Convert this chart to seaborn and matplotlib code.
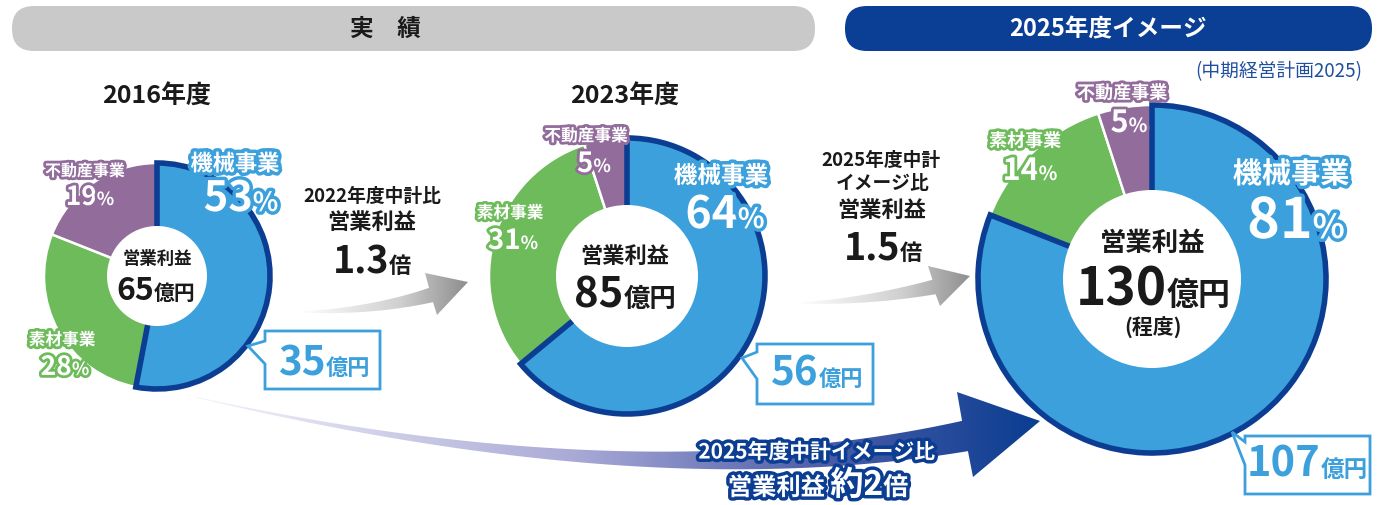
import numpy as np
import matplotlib
matplotlib.use("Agg")
import matplotlib.pyplot as plt
import seaborn as sns
from matplotlib.patches import Polygon, Circle, FancyBboxPatch
from matplotlib.colors import LinearSegmentedColormap
from matplotlib import patheffects as pe

# ---------------- data ----------------
segments = ["機械事業", "素材事業", "不動産事業"]
share_2016 = [53, 28, 19]
share_2023 = [64, 31, 5]
share_2025 = [81, 14, 5]
profit_total = [65, 85, 130]          # 億円
machine_profit = [35, 56, 107]        # 億円
period_labels = ["2016年度", "2023年度"]
ratio_labels = ["1.3", "1.5", "2"]

# ---------------- style ----------------
sns.set_theme(style="white")
plt.rcParams["font.family"] = ["Noto Sans CJK JP", "DejaVu Sans"]

BLUE = "#3ca0dc"
NAVY = "#0b3e92"
GREEN = "#6dbb5a"
PURPLE = "#926d9c"
seg_colors = sns.color_palette([BLUE, GREEN, PURPLE])
DARK = "#1a1a1a"

fig = plt.figure(figsize=(13.8, 5.06), dpi=100)
ax = fig.add_axes([0, 0, 1, 1])
renderer = fig.canvas.get_renderer()


def mixed(x, y, parts, color, stroke=None, z=7):
    """parts: list of (text, fontsize); centered at x, on baseline y"""
    pes = [pe.withStroke(linewidth=stroke[0], foreground=stroke[1])] if stroke else None
    ts = []
    for s, fs in parts:
        t = ax.text(0, y, s, fontsize=fs, color=color, fontweight="bold",
                    ha="left", va="baseline", zorder=z, path_effects=pes)
        ts.append(t)
    ws = [t.get_window_extent(renderer).width for t in ts]
    start = x - sum(ws) / 2
    for t, w in zip(ts, ws):
        t.set_x(start)
        start += w


def label(x, y, s, fs, color="white", stroke=None, weight="bold", z=7):
    pes = [pe.withStroke(linewidth=stroke[0], foreground=stroke[1])] if stroke else None
    ax.text(x, y, s, fontsize=fs, color=color, fontweight=weight, ha="center",
            va="center", zorder=z, path_effects=pes)


def donut(cx, cy, R, ri, values):
    wedges, _ = ax.pie(values, colors=seg_colors, startangle=270, counterclock=True,
                       center=(cx, cy), radius=R, frame=True,
                       wedgeprops=dict(edgecolor="white", linewidth=1.8))
    for w in wedges[1:]:
        w.set_zorder(2)
    wedges[0].set_edgecolor(NAVY)
    wedges[0].set_linewidth(4)
    wedges[0].set_zorder(3)
    ax.add_patch(Circle((cx, cy), ri, facecolor="white", edgecolor="none", zorder=4))


def grad_poly(pts, stops, z):
    poly = Polygon(pts, closed=True, facecolor="none", edgecolor="none")
    ax.add_patch(poly)
    x0, x1 = pts[:, 0].min(), pts[:, 0].max()
    y0, y1 = pts[:, 1].min(), pts[:, 1].max()
    cmap = LinearSegmentedColormap.from_list("g", stops)
    arr = cmap(np.linspace(0, 1, 256))[None, :, :]
    im = ax.imshow(arr, extent=(x0, x1, y1, y0), aspect="auto",
                   interpolation="bilinear", zorder=z)
    im.set_clip_path(poly)


def arrow_pts(P0, P1, P2, wmax, wpow, head_top, tip, head_bot, n=100):
    P0, P1, P2 = map(np.asarray, (P0, P1, P2))
    t = np.linspace(0, 1, n)[:, None]
    B = (1 - t) ** 2 * P0 + 2 * (1 - t) * t * P1 + t ** 2 * P2
    D = 2 * (1 - t) * (P1 - P0) + 2 * t * (P2 - P1)
    D = D / np.linalg.norm(D, axis=1, keepdims=True)
    N = np.column_stack([D[:, 1], -D[:, 0]])
    w = wmax * t[:, 0] ** wpow / 2 + 0.4
    top = B + N * w[:, None]
    bot = B - N * w[:, None]
    return np.vstack([top, [head_top, tip, head_bot], bot[::-1]])


def callout(x0, y0, x1, y1, n1, n2, tip):
    pts = np.array([(x0, y0), (x1, y0), (x1, y1), (x0, y1), (x0, n2), tip, (x0, n1)])
    ax.add_patch(Polygon(pts, closed=True, facecolor="white", edgecolor=BLUE,
                         linewidth=2, zorder=5, joinstyle="miter"))


# ---------------- headers ----------------
ax.add_patch(FancyBboxPatch((12, 7), 803, 45, boxstyle="round,pad=0,rounding_size=22",
                            facecolor="#c9c9c9", edgecolor="none", zorder=1))
ax.add_patch(FancyBboxPatch((845, 7), 527, 45, boxstyle="round,pad=0,rounding_size=22",
                            facecolor="#0a3f95", edgecolor="none", zorder=1))
label(385, 29, "実　績", 17, color=DARK)
label(1108, 29, "2025年度イメージ", 17, color="white")
ax.text(1362, 72, "(中期経営計画2025)", fontsize=13.5, color="#1f4f9e", ha="right",
        va="center", zorder=7)

label(157, 97, period_labels[0], 18, color=DARK)
label(625, 97, period_labels[1], 18, color=DARK)

# ---------------- arrows ----------------
big = arrow_pts((195, 398), (640, 500), (965, 437), 30, 1.2,
                (957, 393), (1040, 422), (973, 478))
grad_poly(big, [(0, "#f4f4fb"), (0.45, "#a9a9d6"), (0.75, "#4a5ca8"), (1, "#0a3d91")], 1.5)

g1 = arrow_pts((297, 313), (370, 313), (431, 296), 14, 1.0,
               (425, 274), (468, 283), (437, 316))
grad_poly(g1, [(0, "#ffffff"), (0.6, "#d0d0d0"), (1, "#8e8e8e")], 1.5)
g2 = arrow_pts((797, 304), (865, 303), (934, 288), 14, 1.0,
               (928, 267), (970, 277), (940, 307))
grad_poly(g2, [(0, "#ffffff"), (0.6, "#d0d0d0"), (1, "#8e8e8e")], 1.5)

# ---------------- donuts ----------------
donut(157, 277, 113, 50, share_2016)
donut(627, 277, 138, 71, share_2023)
donut(1152, 280, 174, 89, share_2025)

# segment labels, 2016
label(235, 165, segments[0], 16, stroke=(5, BLUE))
mixed(241, 212, [(str(share_2016[0]), 30), ("%", 19)], "white", stroke=(5, BLUE))
label(85, 172, segments[2], 11.5, stroke=(4, PURPLE))
mixed(90, 206, [(str(share_2016[2]), 19), ("%", 13)], "white", stroke=(4, PURPLE))
label(62, 341, segments[1], 12, stroke=(4, GREEN))
mixed(65, 376, [(str(share_2016[1]), 19), ("%", 13)], "white", stroke=(4, GREEN))

# segment labels, 2023
label(586, 137, segments[2], 12, stroke=(4, PURPLE))
mixed(594, 173, [(str(share_2023[2]), 20), ("%", 13)], "white", stroke=(4, PURPLE))
label(721, 177, segments[0], 17, stroke=(5, BLUE))
mixed(725, 229, [(str(share_2023[0]), 32), ("%", 20)], "white", stroke=(5, BLUE))
label(510, 214, segments[1], 12, stroke=(4, GREEN))
mixed(513, 250, [(str(share_2023[1]), 20), ("%", 13)], "white", stroke=(4, GREEN))

# segment labels, 2025
label(1122, 94, segments[2], 13, stroke=(4, PURPLE))
mixed(1129, 133, [(str(share_2025[2]), 22), ("%", 14)], "white", stroke=(4, PURPLE))
label(1025, 142, segments[1], 13, stroke=(4, GREEN))
mixed(1030, 181, [(str(share_2025[1]), 22), ("%", 14)], "white", stroke=(4, GREEN))
label(1291, 175, segments[0], 21, stroke=(5, BLUE))
mixed(1296, 239, [(str(share_2025[0]), 40), ("%", 24)], "white", stroke=(5, BLUE))

# center texts
label(157, 259, "営業利益", 12.5, color=DARK)
mixed(156, 300, [(str(profit_total[0]), 23), ("億円", 15)], DARK)
label(625, 256, "営業利益", 16, color=DARK)
mixed(625, 307, [(str(profit_total[1]), 30), ("億円", 19)], DARK)
label(1153, 243, "営業利益", 19, color=DARK)
mixed(1153, 305, [(str(profit_total[2]), 37), ("億円", 23)], DARK)
label(1153, 328, "(程度)", 15, color=DARK)

# callouts
callout(265, 332, 380, 390, 342, 365, (248, 347))
mixed(324, 375, [(str(machine_profit[0]), 29), ("億円", 16)], BLUE)
callout(757, 345, 873, 405, 353, 380, (742, 359))
mixed(817, 386, [(str(machine_profit[1]), 29), ("億円", 16)], BLUE)
callout(1245, 437, 1370, 495, 443, 466, (1232, 433))
mixed(1307, 477, [(str(machine_profit[2]), 30), ("億円", 17)], BLUE)

# arrow texts
label(372, 196, "2022年度中計比", 13.5, color=DARK)
label(372, 222, "営業利益", 16, color=DARK)
mixed(372, 273, [(ratio_labels[0], 27), ("倍", 16)], DARK)
label(881, 160, "2025年度中計", 13.5, color=DARK)
label(883, 183, "イメージ比", 13.5, color=DARK)
label(882, 210, "営業利益", 16, color=DARK)
mixed(883, 260, [(ratio_labels[1], 27), ("倍", 16)], DARK)

label(817, 453, "2025年度中計イメージ比", 15, color="white", stroke=(5, NAVY))
mixed(818, 496, [("営業利益 ", 17.5), ("約" + ratio_labels[2], 24), ("倍", 18)],
      "white", stroke=(5, NAVY))

ax.set_xlim(0, 1380)
ax.set_ylim(506, 0)
ax.set_aspect("equal")
ax.axis("off")
fig.savefig("out.png", dpi=100, facecolor="white")
